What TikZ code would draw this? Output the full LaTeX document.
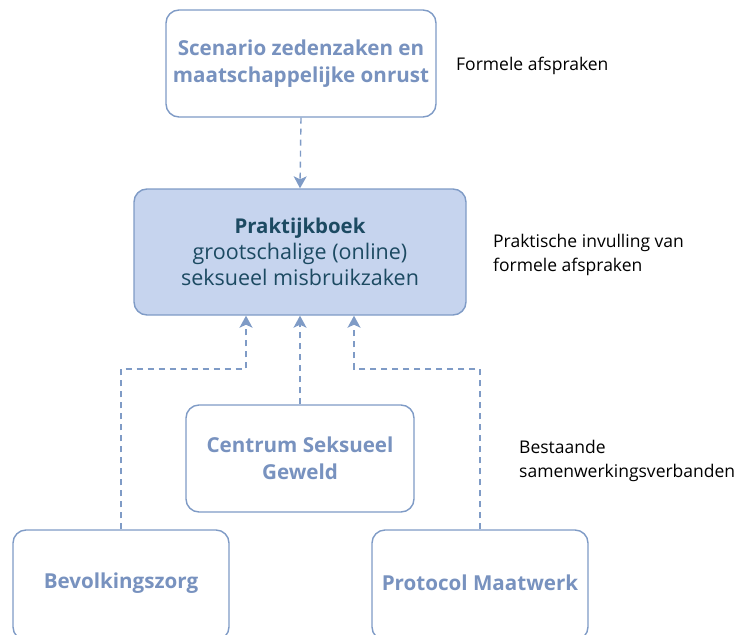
\documentclass[tikz,border=0pt]{standalone}
\usepackage{fontspec}
\setmainfont{Open Sans}
\usetikzlibrary{arrows.meta}
\definecolor{boxline}{HTML}{7F9BC6}
\definecolor{boxtext}{HTML}{7892BF}
\definecolor{mainfill}{HTML}{C6D4EE}
\definecolor{maintext}{HTML}{1C4A62}
\begin{document}
\begin{tikzpicture}[x=1pt,y=-1pt,
  box/.style={draw=boxline,line width=1.4pt,rounded corners=13pt,fill=white,
    text=boxtext,font=\fontsize{20.6}{27}\selectfont\bfseries,align=center,
    inner sep=0pt},
  lbl/.style={text=boxtext,font=\fontsize{20.6}{27}\selectfont\bfseries},
  conn/.style={draw=boxline,line width=1.4pt,dash pattern=on 6pt off 5pt,
    -{Stealth[length=12pt,width=13pt,inset=3pt]}},
  side/.style={anchor=west,align=left,text=black,
    font=\fontsize{17.5}{24}\selectfont,inner sep=0pt}]
\useasboundingbox (0,0) rectangle (741,634);
\clip (0,0) rectangle (741,634);
% boxes
\node[box,minimum width=270pt,minimum height=107pt] (top) at (301,63.5)
  {Scenario zedenzaken en\\maatschappelijke onrust};
\node[box,fill=mainfill,text=maintext,font=\fontsize{21.5}{26}\selectfont,
  minimum width=332pt,minimum height=126pt] (main) at (300,252)
  {{\fontsize{20.4}{26}\selectfont\bfseries Praktijkboek}\\grootschalige (online)\\seksueel misbruikzaken};
\node[box,minimum width=228pt,minimum height=107pt] (csg) at (300,458.5)
  {Centrum Seksueel\\Geweld};
\node[box,minimum width=216pt,minimum height=110pt] (bev) at (121,585) {};
\node[box,minimum width=216pt,minimum height=110pt] (prot) at (480,585) {};
\node[lbl] (bevt) at (121,583) {Bevolkingszorg};
\node[lbl] (prott) at (480,583) {Protocol Maatwerk};
% connectors
\coordinate (l1) at (121,369);
\coordinate (r1) at (480,369);
\draw[conn] (top.south) -- (main.north);
\draw[conn] (csg.north) -- (main.south);
\draw[conn] (bev.north) -- (l1) -| ([xshift=-54pt]main.south);
\draw[conn] (prot.north) -- (r1) -| ([xshift=54pt]main.south);
% side labels
\node[side] (s1) at (456,66) {Formele afspraken};
\node[side] (s2) at (493,255) {Praktische invulling van\\formele afspraken};
\node[side] (s3) at (519,461) {Bestaande\\samenwerkingsverbanden};
\end{tikzpicture}
\end{document}
